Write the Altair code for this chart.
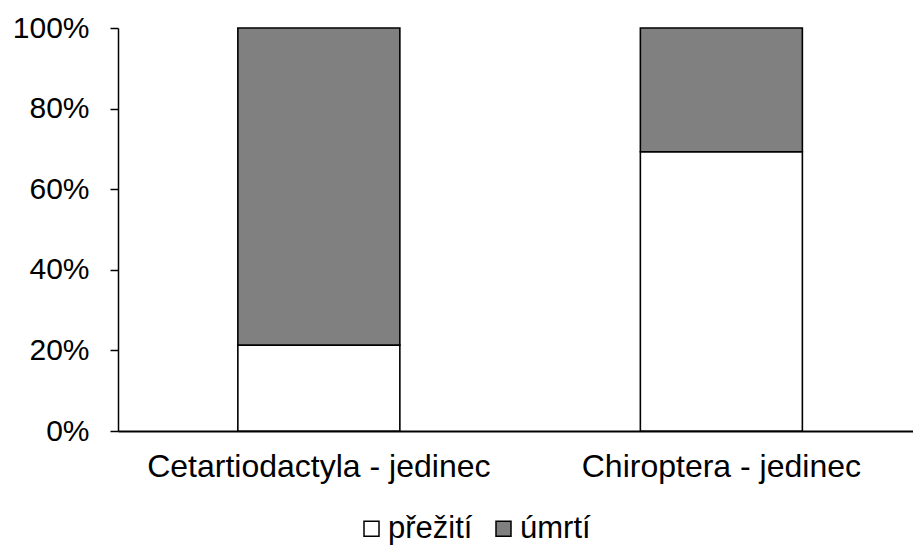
import altair as alt
import pandas as pd

# Share of individuals that survived / died, per order
categories = ["Cetartiodactyla - jedinec", "Chiroptera - jedinec"]
outcomes = ["přežití", "úmrtí"]
survived = [0.213, 0.693]
died = [0.787, 0.307]

rows = []
for i, cat in enumerate(categories):
    rows.append({"kategorie": cat, "výsledek": outcomes[0], "podíl": survived[i], "poradi": 0})
    rows.append({"kategorie": cat, "výsledek": outcomes[1], "podíl": died[i], "poradi": 1})
df = pd.DataFrame(rows)

FONT = "Liberation Sans"

chart = alt.Chart(df).mark_bar(stroke="black", strokeWidth=1.6).encode(
    x=alt.X(
        "kategorie:N",
        sort=categories,
        title=None,
        scale=alt.Scale(paddingInner=0.5975, paddingOuter=0.2863, align=0.52),
        axis=alt.Axis(
            labelAngle=0, ticks=False, domainColor="black", domainWidth=2,
            labelFont=FONT, labelFontSize=32, labelColor="black", labelPadding=20,
            labelLimit=0,
        ),
    ),
    y=alt.Y(
        "podíl:Q",
        stack="zero",
        title=None,
        scale=alt.Scale(domain=[0, 1], nice=False),
        axis=alt.Axis(
            format=".0%", values=[0, 0.2, 0.4, 0.6, 0.8, 1.0], grid=False,
            domainColor="black", domainWidth=1.5, tickColor="black", tickWidth=1.5,
            tickSize=8, labelPadding=21, labelFont=FONT, labelFontSize=30,
            labelColor="black", labelLimit=0,
        ),
    ),
    color=alt.Color(
        "výsledek:N",
        scale=alt.Scale(domain=outcomes, range=["white", "#808080"]),
        legend=alt.Legend(
            title=None, orient="none", direction="horizontal",
            legendX=238, legendY=485, symbolType="square", symbolSize=225,
            symbolStrokeColor="black", symbolStrokeWidth=1.5, symbolOpacity=1,
            labelFont=FONT, labelFontSize=31, labelColor="black",
            labelOffset=1, columnPadding=15, labelLimit=0,
        ),
    ),
    order=alt.Order("poradi:Q", sort="ascending"),
).properties(
    width=795,
    height=403,
    autosize=alt.AutoSizeParams(type="none"),
    padding={"left": 118, "top": 28, "right": 0, "bottom": 114},
    background="white",
).configure_view(stroke=None)

chart.save("out.html", embed_options={"renderer": "svg", "actions": False})
